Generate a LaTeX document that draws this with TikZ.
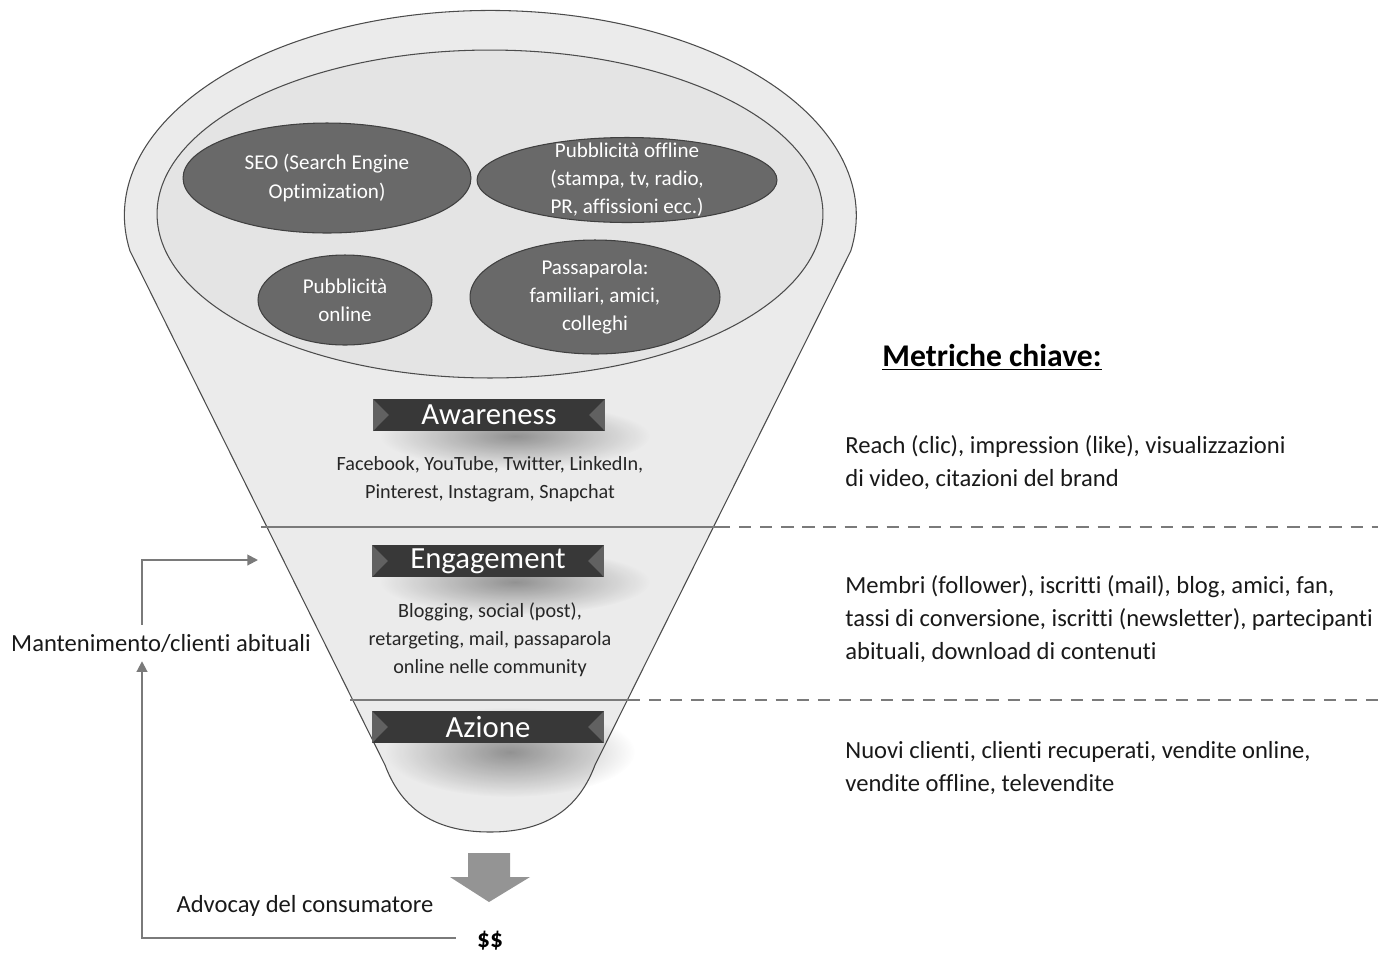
\documentclass[tikz,border=0pt]{standalone}
\usepackage{fontspec}
\setmainfont{Carlito}[Ligatures=CommonOff]
\usetikzlibrary{arrows.meta,shapes.geometric,fadings,calc}

\definecolor{funnelgray}{HTML}{EBEBEB}
\definecolor{rimgray}{HTML}{E4E4E4}
\definecolor{chgray}{HTML}{696969}
\definecolor{bargray}{HTML}{383838}
\definecolor{linegray}{HTML}{7A7A7A}

\tikzfading[name=shadowfade, inner color=transparent!62, outer color=transparent!100]

\tikzset{
  funnel/.style={draw=black!70, line width=0.6pt, fill=funnelgray},
  channel/.style={ellipse, draw=black!75, line width=0.6pt, fill=chgray, inner sep=0pt,
    text=white, align=center, font=\fontsize{12}{16}\selectfont},
  stagebar/.style={rectangle, fill=bargray, minimum width=4.64cm, minimum height=0.64cm, inner sep=0pt,
    text=white, font=\fontsize{17.5}{20}\selectfont,
    path picture={
      \fill[black!62] (path picture bounding box.north west) -- ([xshift=9pt]path picture bounding box.west) -- (path picture bounding box.south west) -- cycle;
      \fill[black!62] (path picture bounding box.north east) -- ([xshift=-9pt]path picture bounding box.east) -- (path picture bounding box.south east) -- cycle;
    }},
  barshadow/.style={fill=black, path fading=shadowfade},
  funneltxt/.style={inner sep=0pt, align=center, text=black!85, font=\fontsize{11.5}{15.9}\selectfont},
  metric/.style={inner sep=0pt, anchor=west, align=left, text=black!90, font=\fontsize{14}{18.8}\selectfont},
  sidetxt/.style={inner sep=0pt, text=black!90, font=\fontsize{14}{16}\selectfont},
  cutline/.style={draw=linegray, line width=1.1pt},
  cutdash/.style={draw=linegray, line width=1.1pt, dash pattern=on 7pt off 5pt},
  loop/.style={draw=linegray, line width=1.1pt, -{Triangle[length=6pt, width=6pt]}}
}

\begin{document}
\begin{tikzpicture}[x=0.02cm, y=-0.02cm]
\useasboundingbox (0,0) rectangle (1378,958);

% FUNNEL %%%%%%%%%%%%%%%%%%%%%%%%%%%%%%%%%%%%%%%%%%%%%%%%%%%%%%%%%%%%%%%%%

\draw[funnel] (130,251) arc[start angle=190, end angle=-10, x radius=7.32cm, y radius=4.1cm]
  -- (595,765) .. controls (580,805) and (550,832) .. (490,832)
  .. controls (430,832) and (400,805) .. (385,765) -- cycle;
\draw[funnel, fill=rimgray] (490,214) ellipse [x radius=6.66cm, y radius=3.28cm];

% soft shadows under the stage bars
\fill[barshadow] (515,436) ellipse [x radius=2.7cm, y radius=0.65cm];
\fill[barshadow] (515,582) ellipse [x radius=2.7cm, y radius=0.65cm];
\fill[barshadow] (510,752) ellipse [x radius=2.5cm, y radius=0.9cm];

\coordinate (cut1l) at (261,527);
\coordinate (cut1r) at (718,527);
\coordinate (cut1e) at (1378,527);
\coordinate (cut2l) at (350,700);
\coordinate (cut2r) at (628,700);
\coordinate (cut2e) at (1378,700);

\draw[cutline] (cut1l) -- (cut1r);
\draw[cutdash] (cut1r) -- (cut1e);
\draw[cutline] (cut2l) -- (cut2r);
\draw[cutdash] (cut2r) -- (cut2e);

% NODES %%%%%%%%%%%%%%%%%%%%%%%%%%%%%%%%%%%%%%%%%%%%%%%%%%%%%%%%%%%%%%%%%%

\node[channel, minimum width=5.76cm, minimum height=2.2cm] (seo) at (327,178) {SEO (Search Engine\\Optimization)};
\node[channel, minimum width=6.0cm, minimum height=1.7cm, inner ysep=-8pt] (offline) at (627,180) {Pubblicità offline\\(stampa, tv, radio,\\PR, affissioni ecc.)};
\node[channel, minimum width=3.48cm, minimum height=1.8cm] (online) at (345,300) {Pubblicità\\online};
\node[channel, minimum width=5.0cm, minimum height=2.28cm, inner ysep=-3pt] (word) at (595,297) {Passaparola:\\familiari, amici,\\colleghi};

\node[stagebar] (aware) at (489,415) {Awareness};
\node[stagebar] (engage) at (488,561) {Engagement};
\node[stagebar] (action) at (488,727) {Azione};

\node[funneltxt] (awaretxt) at (490,479) {Facebook, YouTube, Twitter, LinkedIn,\\Pinterest, Instagram, Snapchat};
\node[funneltxt] (engagetxt) at (490,640) {Blogging, social (post),\\retargeting, mail, passaparola\\online nelle community};

% down arrow to the money
\fill[black!42] (468,853) -- (510,853) -- (510,877) -- (530,877) -- (489,902) -- (450,877) -- (468,877) -- cycle;

% METRICS %%%%%%%%%%%%%%%%%%%%%%%%%%%%%%%%%%%%%%%%%%%%%%%%%%%%%%%%%%%%%%%%

\node[inner sep=0pt, font=\bfseries\fontsize{18}{20}\selectfont] (keys) at (992,357) {\underline{Metriche chiave:}};
\node[metric] (reach) at (845,463) {Reach (clic), impression (like), visualizzazioni\\di video, citazioni del brand};
\node[metric] (members) at (845,619) {Membri (follower), iscritti (mail), blog, amici, fan,\\tassi di conversione, iscritti (newsletter), partecipanti\\abituali, download di contenuti};
\node[metric] (sales) at (845,768) {Nuovi clienti, clienti recuperati, vendite online,\\vendite offline, televendite};

% LOOP %%%%%%%%%%%%%%%%%%%%%%%%%%%%%%%%%%%%%%%%%%%%%%%%%%%%%%%%%%%%%%%%%%%

\node[sidetxt] (keep) at (161,643) {Mantenimento/clienti abituali};
\node[sidetxt] (advocacy) at (305,906) {Advocay del consumatore};
\node[inner sep=0pt, font=\bfseries\fontsize{14.5}{16}\selectfont] (usd) at (490,941) {\$\$};

\coordinate (loopx) at (142,938);
\coordinate (reentry) at (258,560);

\draw[loop, shorten <=12pt, shorten >=5pt] (usd.west |- loopx) -- (loopx) -- (keep.south -| loopx);
\draw[loop, shorten <=5pt] (keep.north -| loopx) -- (loopx |- reentry) -- (reentry);

\end{tikzpicture}
\end{document}
